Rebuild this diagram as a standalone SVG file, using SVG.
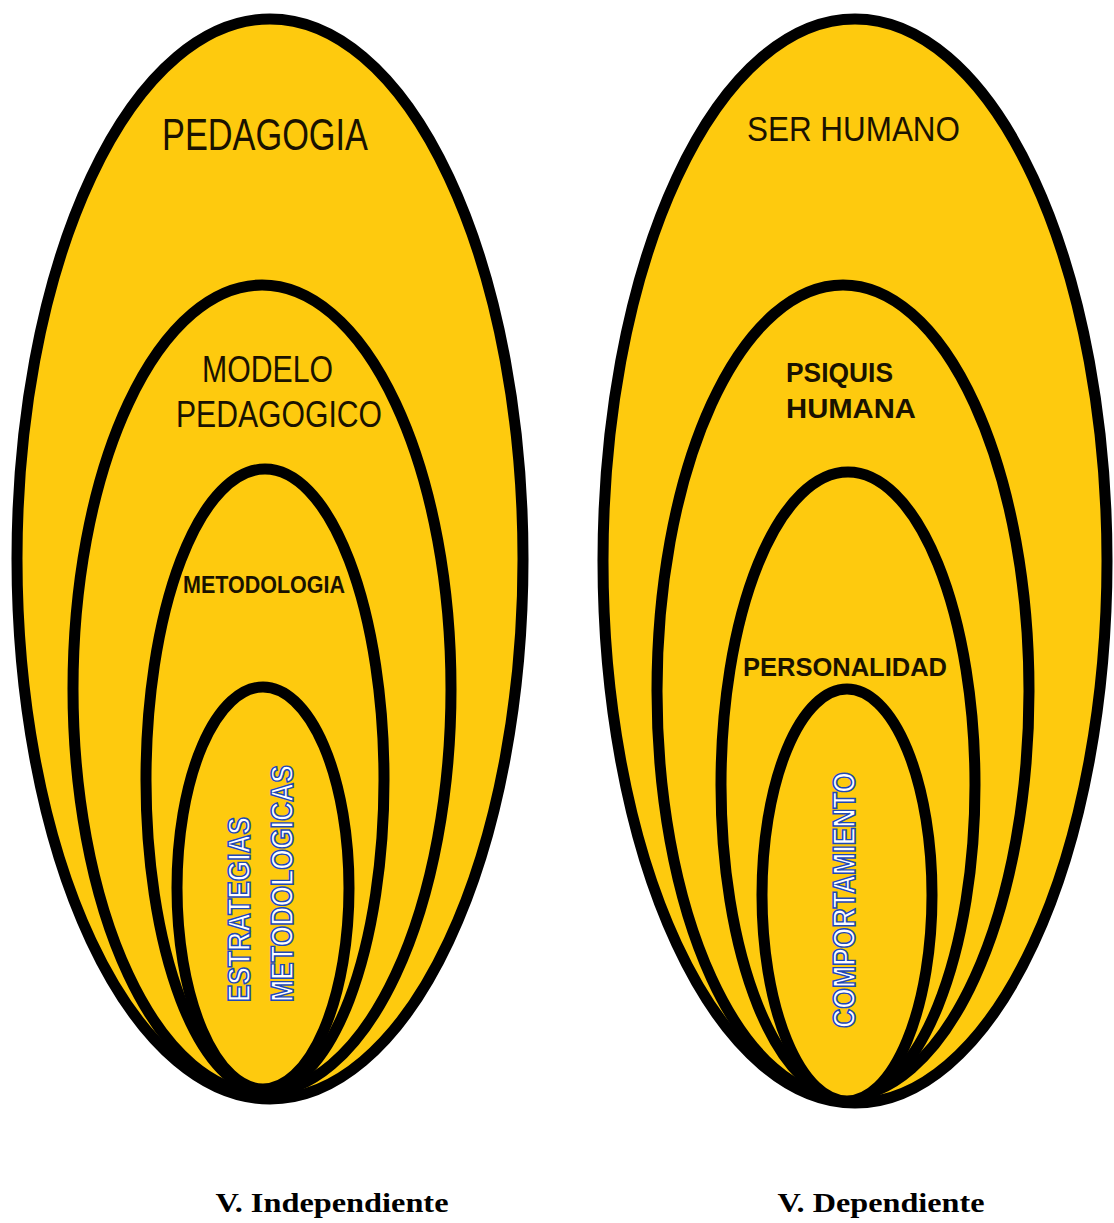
<svg xmlns="http://www.w3.org/2000/svg" width="1114" height="1223" viewBox="0 0 1114 1223">
<style>
.o{fill:#FECA0E;stroke:#000;stroke-width:11}
.t{font-family:"Liberation Sans",Arial,sans-serif;fill:#1a1200}
.b{font-family:"Liberation Sans",Arial,sans-serif;font-weight:bold;fill:#1a1200}
.v{font-family:"Liberation Sans",Arial,sans-serif;font-weight:bold;fill:#ffffff;stroke:#1d48b8;stroke-width:1.6}
.c{font-family:"Liberation Serif","Times New Roman",serif;font-weight:bold;font-size:28px;fill:#000;text-anchor:middle}
</style>
<rect width="1114" height="1223" fill="#fff"/>
<g id="left">
<g id="pedagogia"><ellipse class="o" cx="270" cy="559" rx="253" ry="540"/>
<text class="t" x="162" y="150" font-size="44" textLength="206" lengthAdjust="spacingAndGlyphs">PEDAGOGIA</text></g>
<g id="modelo"><ellipse class="o" cx="262" cy="689" rx="189" ry="404"/>
<text class="t" x="202" y="382" font-size="36" textLength="131" lengthAdjust="spacingAndGlyphs">MODELO</text>
<text class="t" x="176" y="427" font-size="36" textLength="206" lengthAdjust="spacingAndGlyphs">PEDAGOGICO</text></g>
<g id="metodologia"><ellipse class="o" cx="265" cy="780" rx="119" ry="311"/>
<text class="b" x="183" y="593" font-size="23" textLength="162" lengthAdjust="spacingAndGlyphs">METODOLOGIA</text></g>
<g id="estrategias"><ellipse class="o" cx="263" cy="888" rx="86" ry="201"/>
<text class="v" transform="translate(250,1002) rotate(-90)" font-size="31" textLength="185" lengthAdjust="spacingAndGlyphs">ESTRATEGIAS</text>
<text class="v" transform="translate(293,1002) rotate(-90)" font-size="31" textLength="237" lengthAdjust="spacingAndGlyphs">METODOLOGICAS</text></g>
</g>
<g id="right">
<g id="ser-humano"><ellipse class="o" cx="855" cy="561" rx="252" ry="542"/>
<text class="t" x="747" y="141" font-size="35" textLength="213" lengthAdjust="spacingAndGlyphs">SER HUMANO</text></g>
<g id="psiquis"><ellipse class="o" cx="843" cy="691" rx="186" ry="406"/>
<text class="b" x="786" y="382" font-size="27" textLength="107" lengthAdjust="spacingAndGlyphs">PSIQUIS</text>
<text class="b" x="786" y="418" font-size="27" textLength="130" lengthAdjust="spacingAndGlyphs">HUMANA</text></g>
<g id="personalidad"><ellipse class="o" cx="848" cy="785" rx="127" ry="313"/>
<text class="b" x="743" y="676" font-size="26" textLength="204" lengthAdjust="spacingAndGlyphs">PERSONALIDAD</text></g>
<g id="comportamiento"><ellipse class="o" cx="847" cy="895" rx="85" ry="206"/>
<text class="v" transform="translate(855,1028) rotate(-90)" font-size="31" textLength="256" lengthAdjust="spacingAndGlyphs">COMPORTAMIENTO</text></g>
</g>
<g id="connectors"></g>
<text class="c" x="332" y="1212" textLength="233" lengthAdjust="spacingAndGlyphs">V. Independiente</text>
<text class="c" x="881" y="1212" textLength="207" lengthAdjust="spacingAndGlyphs">V. Dependiente</text>
</svg>
